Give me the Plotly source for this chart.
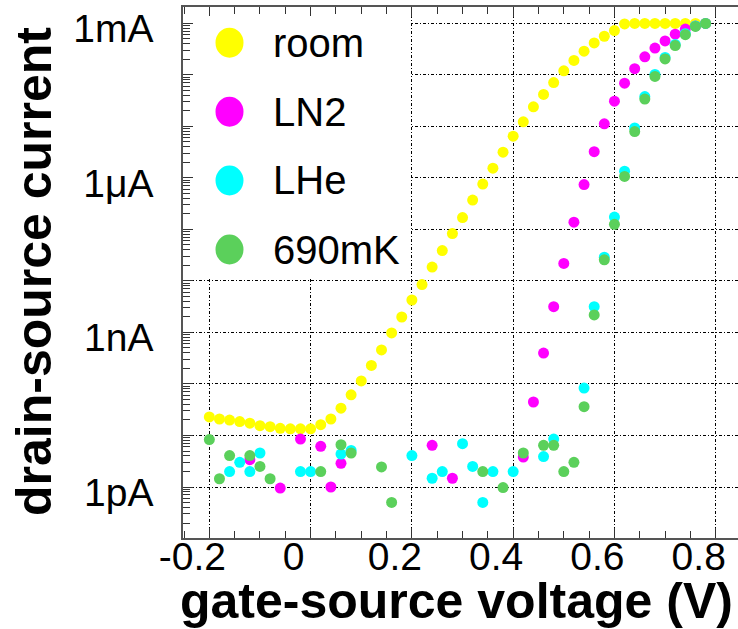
import plotly.graph_objects as go

# gate-source voltage (V) and log10(drain-source current / A)
room_v = [-0.20, -0.18, -0.16, -0.14, -0.12, -0.10, -0.08, -0.06, -0.04, -0.02,
          0.00, 0.02, 0.04, 0.06, 0.08, 0.10, 0.12, 0.14, 0.16, 0.18,
          0.20, 0.22, 0.24, 0.26, 0.28, 0.30, 0.32, 0.34, 0.36, 0.38,
          0.40, 0.42, 0.44, 0.46, 0.48, 0.50, 0.52, 0.54, 0.56, 0.58,
          0.60, 0.62, 0.64, 0.66, 0.68, 0.70, 0.72, 0.74, 0.76, 0.78]
room_log = [-10.64, -10.68, -10.70, -10.73, -10.76, -10.81, -10.83, -10.86, -10.87, -10.87,
            -10.87, -10.79, -10.68, -10.47, -10.21, -9.94, -9.64, -9.34, -9.01, -8.70,
            -8.37, -8.07, -7.73, -7.41, -7.08, -6.77, -6.43, -6.12, -5.81, -5.50,
            -5.19, -4.91, -4.62, -4.38, -4.15, -3.92, -3.72, -3.54, -3.38, -3.25,
            -3.14, -3.01, -3.00, -3.00, -3.00, -3.00, -3.00, -3.00, -3.00, -3.00]

ln2_v = [-0.12, -0.06, -0.02, 0.02, 0.04, 0.06, 0.24, 0.28, 0.42, 0.44,
         0.46, 0.48, 0.50, 0.52, 0.54, 0.56, 0.58, 0.60, 0.62, 0.64,
         0.66, 0.68, 0.70, 0.72, 0.74, 0.76, 0.78]
ln2_log = [-11.47, -12.02, -11.07, -11.21, -12.00, -11.54, -11.19, -11.83, -11.42, -10.35,
           -9.40, -8.50, -7.66, -6.86, -6.13, -5.49, -4.95, -4.51, -4.16, -3.88,
           -3.65, -3.48, -3.34, -3.21, -3.11, -3.05, -3.00]

lhe_v = [-0.16, -0.14, -0.12, -0.10, -0.02, 0.00, 0.06, 0.08, 0.20, 0.24,
         0.26, 0.30, 0.32, 0.34, 0.36, 0.40, 0.46, 0.48, 0.54, 0.56,
         0.58, 0.60, 0.62, 0.64, 0.66, 0.68, 0.70, 0.72, 0.74, 0.76, 0.78]
lhe_log = [-11.70, -11.52, -11.70, -11.34, -11.70, -11.70, -11.36, -11.29, -11.39, -11.83,
           -11.70, -11.16, -11.60, -12.30, -11.70, -11.70, -11.41, -11.07, -10.08, -8.50,
           -7.54, -6.76, -5.87, -5.03, -4.42, -3.99, -3.66, -3.41, -3.20, -3.05, -3.00]

mk_v = [-0.20, -0.18, -0.16, -0.12, -0.10, -0.08, 0.02, 0.06, 0.08, 0.14,
        0.16, 0.34, 0.38, 0.42, 0.46, 0.48, 0.50, 0.52, 0.54, 0.56,
        0.58, 0.60, 0.62, 0.64, 0.66, 0.68, 0.70, 0.72, 0.74, 0.76, 0.78]
mk_log = [-11.08, -11.84, -11.39, -11.39, -11.60, -11.84, -11.70, -11.18, -11.34, -11.61,
          -12.30, -11.70, -12.01, -11.34, -11.19, -11.19, -11.70, -11.52, -10.44, -8.66,
          -7.59, -6.90, -5.97, -5.10, -4.47, -4.03, -3.69, -3.43, -3.22, -3.06, -3.00]

series = [
    ("room", room_v, room_log, "#ffff00"),
    ("LN2", ln2_v, ln2_log, "#ff00ff"),
    ("LHe", lhe_v, lhe_log, "#00ffff"),
    ("690mK", mk_v, mk_log, "#5bd05b"),
]

y_tickvals = [1e-3, 1e-4, 1e-5, 1e-6, 1e-7, 1e-8, 1e-9, 1e-10, 1e-11, 1e-12]
y_ticktext = ["1mA", "", "", "1μA", "", "", "1nA", "", "", "1pA"]
x_tickvals = [-0.2, 0, 0.2, 0.4, 0.6, 0.8]
x_ticktext = ["-0.2", "0", "0.2", "0.4", "0.6", "0.8"]

FONT = "Liberation Sans, Arial, sans-serif"
W, H = 738, 629
ML, MR, MT, MB = 183, 0, 7, 91
GRID_DASH = "3px,2px,1px,2px"

fig = go.Figure()
for name, xs, logs, col in series:
    fig.add_trace(go.Scatter(
        x=xs, y=[10 ** v for v in logs], mode="markers", name=name,
        marker=dict(color=col, size=11, line=dict(width=0)),
        showlegend=False))

# pixel -> paper helpers for the hand-drawn legend and titles
def px(xp):
    return (xp - ML) / (W - ML - MR)

def py(yp):
    return 1 - (yp - MT) / (H - MT - MB)

shapes = [dict(type="rect", xref="paper", yref="paper", layer="above",
               x0=px(193), x1=px(410), y0=py(278), y1=py(16),
               fillcolor="white", line=dict(width=0))]
annotations = []
leg_y = [42.7, 111.7, 180.5, 249.5]
for (name, xs, logs, col), yy in zip(series, leg_y):
    shapes.append(dict(type="circle", xref="paper", yref="paper", layer="above",
                       xsizemode="pixel", ysizemode="pixel",
                       xanchor=px(229.5), yanchor=py(yy),
                       x0=-14, x1=14, y0=-15, y1=15,
                       fillcolor=col, line=dict(width=0)))
    annotations.append(dict(text=name, xref="paper", yref="paper",
                            x=px(271), y=py(yy), xanchor="left", yanchor="middle",
                            showarrow=False, font=dict(size=40, color="black", family=FONT)))

# axis titles
annotations.append(dict(text="<b>gate-source voltage (V)</b>", xref="paper", yref="paper",
                        x=px(456), y=py(601), xanchor="center", yanchor="middle",
                        showarrow=False, font=dict(size=50, color="black", family=FONT)))
annotations.append(dict(text="<b>drain-source current</b>", xref="paper", yref="paper",
                        x=px(34), y=py(272), xanchor="center", yanchor="middle", textangle=-90,
                        showarrow=False, font=dict(size=50, color="black", family=FONT)))

fig.update_layout(
    width=W, height=H,
    margin=dict(l=ML, r=MR, t=MT, b=MB, autoexpand=False),
    plot_bgcolor="white", paper_bgcolor="white",
    font=dict(family=FONT, color="black"),
    shapes=shapes, annotations=annotations,
)

fig.update_xaxes(
    range=[-0.252, 0.844], automargin=False,
    tickmode="array", tickvals=x_tickvals, ticktext=x_ticktext,
    tickfont=dict(size=39), ticklabelshift=-17, ticklabelstandoff=-17,
    ticks="inside", ticklen=10, tickcolor="#333",
    minor=dict(ticks="inside", ticklen=7, dtick=0.05, tickcolor="#333", showgrid=False),
    showgrid=True, gridcolor="black", griddash=GRID_DASH, gridwidth=1,
    showline=True, linecolor="#555", linewidth=1.5, mirror="allticks",
    zeroline=False,
)

fig.update_yaxes(
    type="log", range=[-12.99, -2.682], automargin=False,
    tickmode="array", tickvals=y_tickvals, ticktext=y_ticktext,
    tickfont=dict(size=39), ticklabelshift=5, ticklabelstandoff=20,
    ticklabeloverflow="allow",
    ticks="inside", ticklen=10, tickcolor="#333",
    minor=dict(ticks="inside", ticklen=7, dtick="D1", tickcolor="#333", showgrid=False),
    showgrid=True, gridcolor="black", griddash=GRID_DASH, gridwidth=1,
    showline=True, linecolor="#555", linewidth=1.5,
    zeroline=False,
)

# drop the browser's default page margin so the figure sits at the top-left corner
fig.write_html("out.html", config={"displayModeBar": False},
               post_script="document.body.style.margin='0';")
